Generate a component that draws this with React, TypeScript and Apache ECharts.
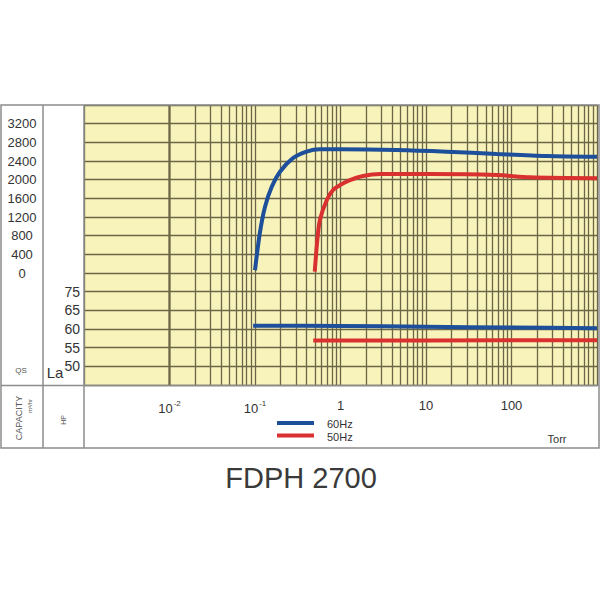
import React, { useEffect, useRef } from "react";
import * as echarts from "echarts";

// ---- data ----
// pressure in Torr, capacity QS (m3/hr)
const blue60Qs: [number, number][] = [
  [0.1, 60], [0.114, 860], [0.131, 1420], [0.157, 1850], [0.196, 2170],
  [0.278, 2460], [0.4, 2600], [0.575, 2650], [1, 2650], [4.5, 2636],
  [17.5, 2600], [67, 2550], [258, 2505], [1000, 2490],
];
const red50Qs: [number, number][] = [
  [0.5, 30], [0.536, 710], [0.575, 1140], [0.69, 1560], [0.82, 1780],
  [1, 1890], [1.29, 1990], [1.83, 2080], [2.9, 2120], [11, 2120],
  [67, 2100], [164, 2050], [1000, 2030],
];
// noise level La (dB)
const blue60La: [number, number][] = [
  [0.095, 60.9], [1, 60.8], [10, 60.6], [100, 60.4], [1000, 60.2],
];
const red50La: [number, number][] = [
  [0.48, 56.9], [10, 56.95], [1000, 57.0],
];

const xTickExps = [-2, -1, 0, 1, 2];
const xTickLabels = ["{b|10}{s|-2}", "{b|10}{s|-1}", "1", "10", "100"];
const qsTickValues = [0, 400, 800, 1200, 1600, 2000, 2400, 2800, 3200];
const laTickValues = [50, 55, 60, 65, 70];
const laTickLabels = ["50", "55", "60", "65", "75"];

const BLUE = "#1d4f9a";
const RED = "#d93030";
const GRID = "#6a6647";
const FRAME = "#8c8c8c";
const FONT = "Liberation Sans, Arial, sans-serif";

export default function App() {
  const ref = useRef<HTMLDivElement>(null);
  useEffect(() => {
    if (!ref.current) return;
    const chart = echarts.init(ref.current, undefined, { renderer: "svg" });

    // log-paper minor grid lines (2..9 in each decade)
    const minorLines: { xAxis: number }[] = [];
    for (let e = -3; e <= 2; e++) {
      for (let k = 2; k <= 9; k++) minorLines.push({ xAxis: k * Math.pow(10, e) });
    }

    const lineSeries = (data: [number, number][], color: string, yAxisIndex: number) => ({
      type: "line",
      data,
      yAxisIndex,
      smooth: 0.3,
      symbol: "none",
      silent: true,
      z: 5,
      lineStyle: { color, width: 4 },
    });

    chart.setOption({
      animation: false,
      backgroundColor: "#ffffff",
      grid: {
        left: 84,
        top: 105,
        right: 3,
        bottom: 215,
        show: true,
        backgroundColor: "#f8f3ba",
        borderWidth: 0,
      },
      xAxis: {
        type: "log",
        logBase: 10,
        min: 0.001,
        max: 1000,
        splitNumber: 6,
        axisLine: { show: false },
        axisTick: { show: false },
        splitLine: { show: true, lineStyle: { color: GRID, width: 1.3 } },
        axisLabel: {
          margin: 14,
          fontSize: 13,
          color: "#333",
          fontFamily: FONT,
          showMinLabel: true,
          showMaxLabel: true,
          formatter: (v: number) => {
            const e = Math.round(Math.log10(v));
            const i = xTickExps.indexOf(e);
            return i >= 0 ? xTickLabels[i] : "";
          },
          rich: {
            b: { fontSize: 13, color: "#333", fontFamily: FONT, lineHeight: 16, verticalAlign: "bottom" },
            s: { fontSize: 8, color: "#333", fontFamily: FONT, lineHeight: 16, verticalAlign: "top", padding: [0, 0, 0, 1] },
          },
        },
      },
      yAxis: [
        {
          type: "value",
          min: -2400,
          max: 3600,
          interval: 400,
          position: "left",
          axisLine: { show: false },
          axisTick: { show: false },
          splitLine: { show: true, lineStyle: { color: GRID, width: 1.3 } },
          axisLabel: {
            align: "center",
            margin: 62,
            fontSize: 13,
            color: "#333",
            fontFamily: FONT,
            showMaxLabel: true,
            showMinLabel: true,
            formatter: (v: number) => (qsTickValues.indexOf(v) >= 0 ? String(v) : ""),
          },
        },
        {
          type: "value",
          min: 45,
          max: 120,
          interval: 5,
          position: "left",
          axisLine: { show: false },
          axisTick: { show: false },
          splitLine: { show: false },
          axisLabel: {
            margin: 4,
            fontSize: 14,
            color: "#333",
            fontFamily: FONT,
            formatter: (v: number) => {
              const i = laTickValues.indexOf(v);
              return i >= 0 ? laTickLabels[i] : "";
            },
          },
        },
      ],
      series: [
        {
          type: "line",
          data: [],
          silent: true,
          z: 1,
          markLine: {
            silent: true,
            symbol: ["none", "none"],
            label: { show: false },
            lineStyle: { color: GRID, width: 1.3, type: "solid" },
            emphasis: { disabled: true },
            data: minorLines,
          },
        },
        lineSeries(blue60Qs, BLUE, 0),
        lineSeries(red50Qs, RED, 0),
        lineSeries(blue60La, BLUE, 1),
        lineSeries(red50La, RED, 1),
      ],
      graphic: [
        // frame
        { type: "rect", shape: { x: 1, y: 105, width: 598, height: 343 }, style: { fill: "none", stroke: FRAME, lineWidth: 1.5 }, z: 100 },
        { type: "line", shape: { x1: 43, y1: 105, x2: 43, y2: 448 }, style: { stroke: FRAME, lineWidth: 1.5 }, z: 100 },
        { type: "line", shape: { x1: 84, y1: 105, x2: 84, y2: 448 }, style: { stroke: FRAME, lineWidth: 1.5 }, z: 100 },
        { type: "line", shape: { x1: 1, y1: 385.5, x2: 599, y2: 385.5 }, style: { stroke: FRAME, lineWidth: 1.5 }, z: 100 },
        // side captions
        { type: "text", x: 21, y: 370, style: { text: "QS", fontSize: 8, fill: "#555", fontFamily: FONT, align: "center", verticalAlign: "middle" }, z: 100 },
        { type: "text", x: 55, y: 372, style: { text: "La", fontSize: 15, fill: "#333", fontFamily: FONT, align: "center", verticalAlign: "middle" }, z: 100 },
        { type: "text", x: 19, y: 418, rotation: Math.PI / 2, style: { text: "CAPACITY", fontSize: 9, fill: "#555", fontFamily: FONT, align: "center", verticalAlign: "middle" }, z: 100 },
        { type: "text", x: 30, y: 406, rotation: Math.PI / 2, style: { text: "m³/hr", fontSize: 6, fill: "#555", fontFamily: FONT, align: "center", verticalAlign: "middle" }, z: 100 },
        { type: "text", x: 63, y: 420, rotation: Math.PI / 2, style: { text: "HP", fontSize: 7, fill: "#555", fontFamily: FONT, align: "center", verticalAlign: "middle" }, z: 100 },
        // legend
        { type: "line", shape: { x1: 277, y1: 423, x2: 314, y2: 423 }, style: { stroke: BLUE, lineWidth: 4 }, z: 100 },
        { type: "line", shape: { x1: 277, y1: 435.5, x2: 314, y2: 435.5 }, style: { stroke: RED, lineWidth: 4 }, z: 100 },
        { type: "text", x: 327, y: 424, style: { text: "60Hz", fontSize: 11, fill: "#333", fontFamily: FONT, align: "left", verticalAlign: "middle" }, z: 100 },
        { type: "text", x: 327, y: 437, style: { text: "50Hz", fontSize: 11, fill: "#333", fontFamily: FONT, align: "left", verticalAlign: "middle" }, z: 100 },
        { type: "text", x: 557, y: 439, style: { text: "Torr", fontSize: 11, fill: "#333", fontFamily: FONT, align: "center", verticalAlign: "middle" }, z: 100 },
        // title
        { type: "text", x: 301, y: 478, style: { text: "FDPH 2700", fontSize: 29, fill: "#3a3a3a", fontFamily: FONT, align: "center", verticalAlign: "middle" }, z: 100 },
      ],
    });
    return () => chart.dispose();
  }, []);

  return (
    <div
      ref={ref}
      style={{ position: "fixed", left: 0, top: 0, width: 600, height: 600, background: "#fff" }}
    />
  );
}
